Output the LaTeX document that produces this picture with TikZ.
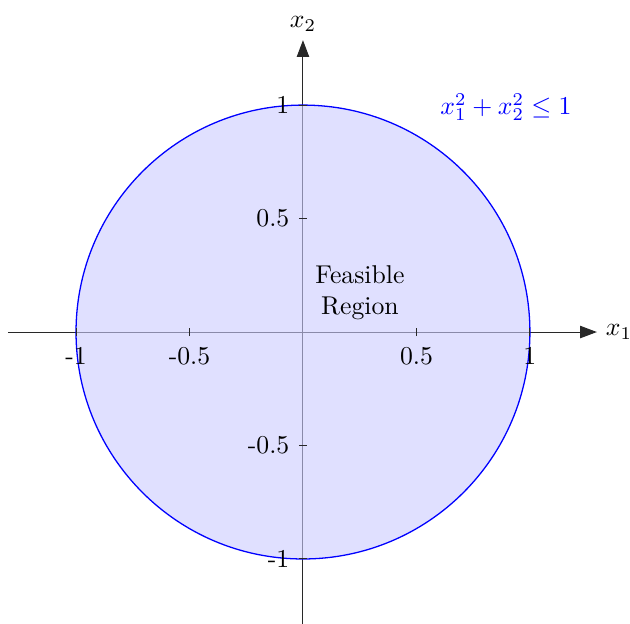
\documentclass[tikz,border=0pt]{standalone}
\usetikzlibrary{arrows.meta,positioning}
\definecolor{RegionBlue}{RGB}{0,0,255}
\definecolor{AxisBlack} {RGB}{40,40,40}
\tikzset{
  %% axes and ticks
  axisarr/.style={-{Triangle[length=6.5pt,width=4.8pt]},line width=0.4pt,color=AxisBlack},
  tickmark/.style={line width=0.4pt,color=AxisBlack},
  xticklbl/.style={anchor=north,inner sep=3.33pt},
  yticklbl/.style={anchor=east,inner sep=3.33pt},
  axislbl/.style={inner sep=3.33pt},
  %% feasible disc
  regionfill/.style={draw=RegionBlue,line width=0.5pt,
                     fill=RegionBlue!20,fill opacity=0.6},
  constrlbl/.style={text=RegionBlue},
  regionlbl/.style={align=center},
}
\begin{document}
\begin{tikzpicture}[x=3.1cm,y=3.1cm]
  \useasboundingbox (-1.335,-1.286) rectangle (1.441,1.463);
  \coordinate (xL) at (-1.3,0);
  \coordinate (xR) at (1.295,0);
  \coordinate (yB) at (0,-1.29);
  \coordinate (yT) at (0,1.286);

  \draw[axisarr] (xL) -- (xR);
  \draw[axisarr] (yB) -- (yT);

  \draw[regionfill] (0,0) circle[radius=1];

  \foreach \t in {-1,-0.5,0.5,1}{
    \draw[tickmark] (\t,-0.018) -- (\t,0.018);
    \draw[tickmark] (-0.018,\t) -- (0.018,\t);
  }

  % tick labels
  \node[xticklbl] (xtm1)  at (-1,-0.028)  {-1};
  \node[xticklbl] (xtm05) at (-0.5,-0.028) {-0.5};
  \node[xticklbl] (xt05)  at (0.5,-0.028)  {0.5};
  \node[xticklbl] (xt1)   at (1,-0.028)    {1};
  \node[yticklbl] (ytm1)  at (-0.02,-1)   {-1};
  \node[yticklbl] (ytm05) at (-0.02,-0.5) {-0.5};
  \node[yticklbl] (yt05)  at (-0.02,0.5)  {0.5};
  \node[yticklbl] (yt1)   at (-0.02,1)    {1};

  \node[axislbl, right=0pt of xR] (x1lbl) {$x_1$};
  \node[axislbl, above=0pt of yT] (x2lbl) {$x_2$};

  \node[constrlbl] (constr) at (0.894,0.991) {$x_1^2+x_2^2\leq 1$};
  \node[regionlbl] (region) at (0.251,0.172) {Feasible\\Region};
\end{tikzpicture}
\end{document}
